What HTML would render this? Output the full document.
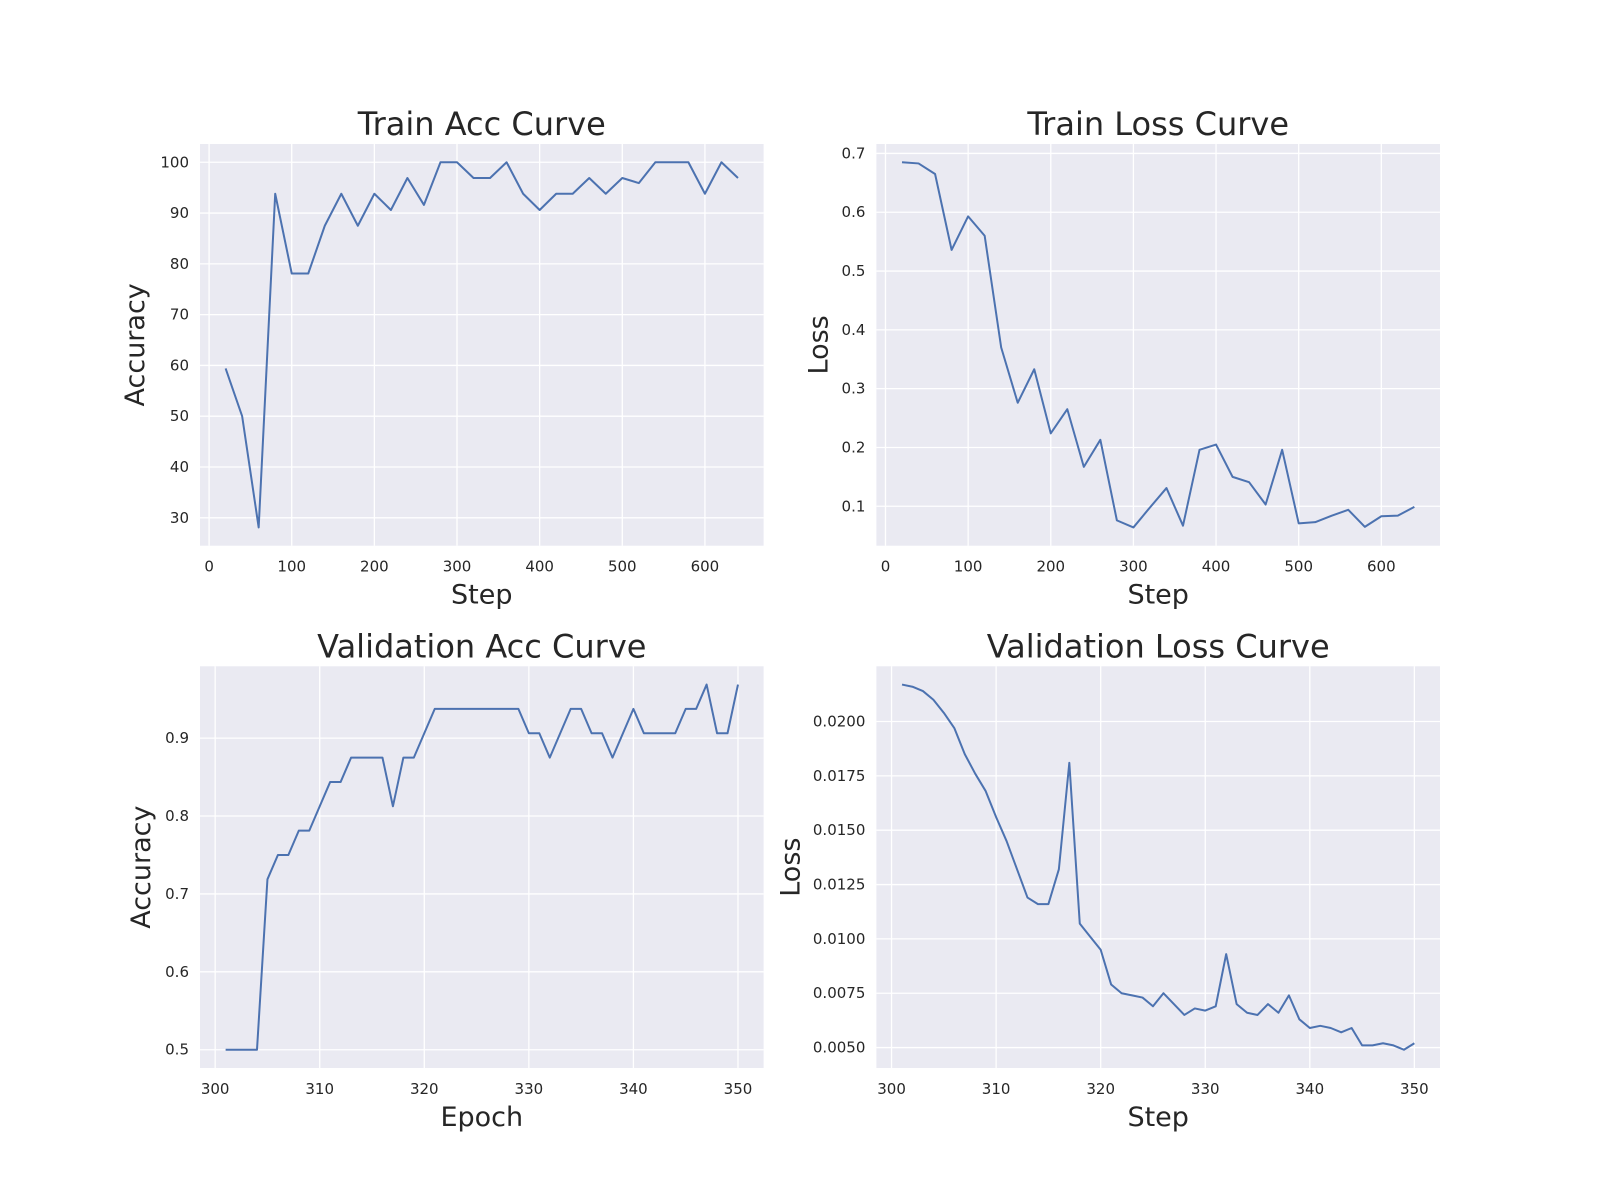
<!DOCTYPE html>
<html><head><meta charset="utf-8"><style>
body{margin:0;background:#fff}
svg{display:block;font-family:"DejaVu Sans","Liberation Sans",sans-serif}
</style></head><body>
<svg id="fig" width="1600" height="1200" viewBox="0 0 1600 1200" xmlns="http://www.w3.org/2000/svg"></svg>
<script>
const trainSteps=[20,40,60,80,100,120,140,160,180,200,220,240,260,280,300,320,340,360,380,400,420,440,460,480,500,520,540,560,580,600,620,640];
const trainAcc=[59.4,50,28.1,93.8,78.1,78.1,87.5,93.8,87.5,93.8,90.6,96.9,91.6,100,100,96.9,96.9,100,93.8,90.6,93.8,93.8,96.9,93.8,96.9,95.9,100,100,100,93.8,100,96.9];
const trainLoss=[0.685,0.683,0.665,0.536,0.593,0.560,0.370,0.276,0.333,0.224,0.265,0.167,0.213,0.076,0.064,0.098,0.131,0.067,0.196,0.205,0.150,0.141,0.103,0.196,0.071,0.073,0.084,0.094,0.065,0.083,0.084,0.099];
const epochs=[];for(let e=301;e<=350;e++)epochs.push(e);
const valAcc=[.5,.5,.5,.5,.71875,.75,.75,.78125,.78125,.8125,.84375,.84375,.875,.875,.875,.875,.8125,.875,.875,.90625,.9375,.9375,.9375,.9375,.9375,.9375,.9375,.9375,.9375,.90625,.90625,.875,.90625,.9375,.9375,.90625,.90625,.875,.90625,.9375,.90625,.90625,.90625,.90625,.9375,.9375,.96875,.90625,.90625,.96875];
const valLoss=[.0217,.0216,.0214,.0210,.0204,.0197,.0185,.0176,.0168,.0156,.0145,.0132,.0119,.0116,.0116,.0132,.0181,.0107,.0101,.0095,.0079,.0075,.0074,.0073,.0069,.0075,.0070,.0065,.0068,.0067,.0069,.0093,.0070,.0066,.0065,.0070,.0066,.0074,.0063,.0059,.0060,.0059,.0057,.0059,.0051,.0051,.0052,.0051,.0049,.0052];
const stepTicks=[0,100,200,300,400,500,600];
const epochTicks=[300,310,320,330,340,350];
const accTicks=[30,40,50,60,70,80,90,100];
const lossTicks=[0.1,0.2,0.3,0.4,0.5,0.6,0.7];
const vaccTicks=[0.5,0.6,0.7,0.8,0.9];
const vlossTicks=[0.005,0.0075,0.01,0.0125,0.015,0.0175,0.02];

const NS="http://www.w3.org/2000/svg";
const fig=document.getElementById('fig');
function mk(tag,attrs,parent,text){const e=document.createElementNS(NS,tag);for(const k in attrs)e.setAttribute(k,attrs[k]);if(text!==undefined)e.textContent=text;(parent||fig).appendChild(e);return e;}
function ext(a){let mn=Math.min(...a),mx=Math.max(...a),m=(mx-mn)*0.05;return [mn-m,mx+m];}
function panel(name,x0,y0,w,h,xs,ys,xt,yt,xtl,ytl,title,xlabel,ylabel,yoff){
  const g=mk('g',{});
  
  
  const [xa,xb]=ext(xs),[ya,yb]=ext(ys);
  const X=v=>x0+(v-xa)/(xb-xa)*w, Y=v=>y0+h-(v-ya)/(yb-ya)*h;
  const bg=mk('rect',{x:x0,y:y0,width:w,height:h,fill:'#eaeaf2'},g);
  
  
  xt.forEach((t,i)=>{const px=X(t);
    const l=mk('line',{x1:px,x2:px,y1:y0,y2:y0+h,stroke:'#fff','stroke-width':1.3},g);
    
    
    const tx=mk('text',{x:px,y:y0+h+26,'font-size':15,fill:'#262626','text-anchor':'middle'},g,xtl[i]);
    
    
  });
  yt.forEach((t,i)=>{const py=Y(t);
    const l=mk('line',{x1:x0,x2:x0+w,y1:py,y2:py,stroke:'#fff','stroke-width':1.3},g);
    
    
    const tx=mk('text',{x:x0-11,y:py+5,'font-size':15,fill:'#262626','text-anchor':'end'},g,ytl[i]);
    
    
  });
  const pts=xs.map((v,i)=>X(v).toFixed(2)+','+Y(ys[i]).toFixed(2)).join(' ');
  const pl=mk('polyline',{points:pts,fill:'none',stroke:'#4c72b0','stroke-width':2,'stroke-linejoin':'round'},g);
  
  
  const ti=mk('text',{x:x0+w/2,y:y0-9,'font-size':32,fill:'#262626','text-anchor':'middle'},g,title);
  
  
  const xl=mk('text',{x:x0+w/2,y:y0+h+58,'font-size':27,fill:'#262626','text-anchor':'middle'},g,xlabel);
  
  
  const yx=x0-yoff;
  const yl=mk('text',{x:yx,y:y0+h/2,'font-size':27,fill:'#262626','text-anchor':'middle',transform:`rotate(-90 ${yx} ${y0+h/2})`},g,ylabel);
  
  
}
const W=563.6,H=401.7,Y2=144+H+120.6;
panel('train-acc-chart',200,144,W,H,trainSteps,trainAcc,stepTicks,accTicks,stepTicks.map(String),accTicks.map(String),'Train Acc Curve','Step','Accuracy',56);
panel('train-loss-chart',876.4,144,W,H,trainSteps,trainLoss,stepTicks,lossTicks,stepTicks.map(String),lossTicks.map(v=>v.toFixed(1)),'Train Loss Curve','Step','Loss',49);
panel('val-acc-chart',200,Y2,W,H,epochs,valAcc,epochTicks,vaccTicks,epochTicks.map(String),vaccTicks.map(v=>v.toFixed(1)),'Validation Acc Curve','Epoch','Accuracy',50);
panel('val-loss-chart',876.4,Y2,W,H,epochs,valLoss,epochTicks,vlossTicks,epochTicks.map(String),vlossTicks.map(v=>v.toFixed(4)),'Validation Loss Curve','Step','Loss',77);
</script>
</body></html>
